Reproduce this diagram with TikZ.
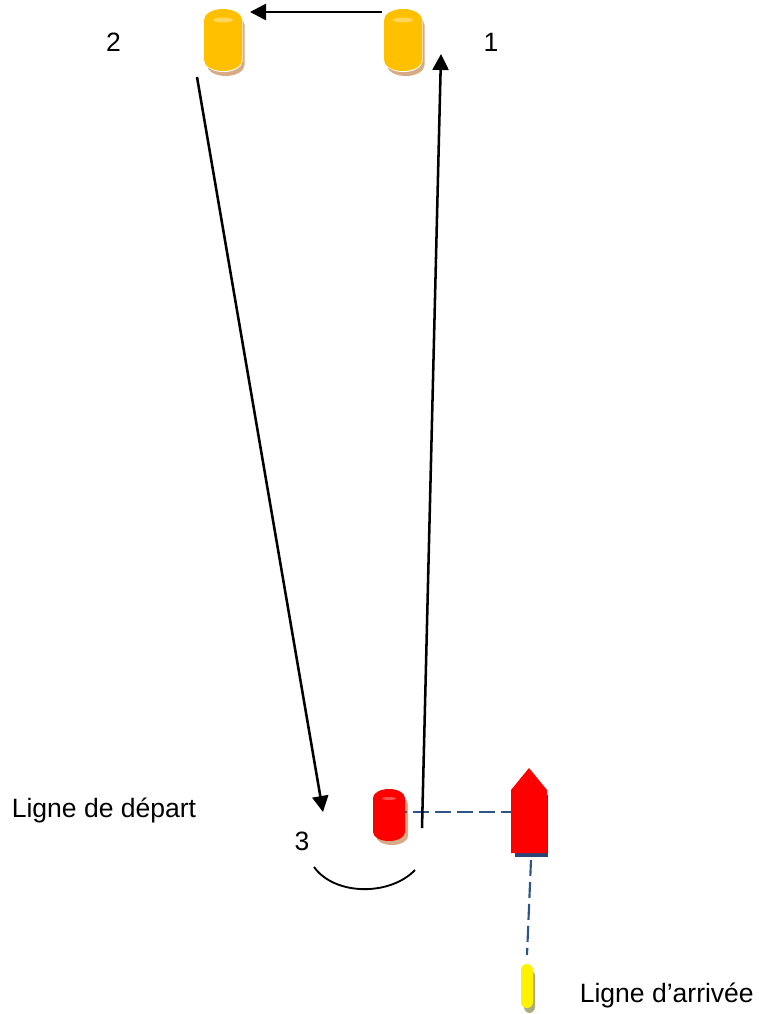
\documentclass[tikz,border=0pt]{standalone}
\usepackage{fontspec}
\setmainfont{Liberation Sans}
\usetikzlibrary{arrows.meta}
\definecolor{buoyorange}{HTML}{FFC000}
\definecolor{buoyhigh}{HTML}{FFD659}
\definecolor{buoyshadow}{HTML}{D6AB85}
\definecolor{redhigh}{HTML}{FF5050}
\definecolor{navyline}{HTML}{2F5488}
\definecolor{boatshadow}{HTML}{2A4674}
\definecolor{olive}{HTML}{ABAD80}
\newcommand{\canpath}[5]{% x0, y0, width, height, cap height
  (#1,#2+#5) .. controls (#1,#2+0.45*#5) and (#1+0.22*#3,#2) .. (#1+0.5*#3,#2)
  .. controls (#1+0.78*#3,#2) and (#1+#3,#2+0.45*#5) .. (#1+#3,#2+#5)
  -- (#1+#3,#2+#4-#5)
  .. controls (#1+#3,#2+#4-0.45*#5) and (#1+0.78*#3,#2+#4) .. (#1+0.5*#3,#2+#4)
  .. controls (#1+0.22*#3,#2+#4) and (#1,#2+#4-0.45*#5) .. (#1,#2+#4-#5) -- cycle}
\tikzset{
  x=0.75pt,y=-0.75pt,
  label text/.style={inner sep=0pt,font=\fontsize{19.9pt}{24pt}\selectfont},
  course/.style={line width=1.9pt,draw=black,-{Triangle[length=12pt,width=12pt]}},
  startline/.style={line width=1.6pt,draw=navyline,dash pattern=on 12pt off 4.5pt,dash phase=10.5pt},
  endline/.style={line width=1.6pt,draw=navyline,dash pattern=on 12pt off 4.5pt},
  turnarc/.style={line width=1.4pt,draw=black}
}
\begin{document}
\begin{tikzpicture}
\useasboundingbox (0,0) rectangle (758,1014);

% orange buoy 2
\fill[buoyshadow] \canpath{207}{14}{37.5}{62}{11};
\fill[white] \canpath{204.5}{10}{38}{62}{11};
\fill[buoyorange] \canpath{204}{9}{38}{62}{11};
\fill[buoyhigh] (223,20) ellipse[x radius=10,y radius=2.5];
% orange buoy 1
\fill[buoyshadow] \canpath{387}{14}{37.5}{62}{11};
\fill[white] \canpath{384.5}{10}{38}{62}{11};
\fill[buoyorange] \canpath{384}{9}{38}{62}{11};
\fill[buoyhigh] (403,20) ellipse[x radius=10,y radius=2.5];
% red buoy
\fill[buoyshadow] \canpath{376}{795}{32}{50}{9};
\fill[red] \canpath{373}{789}{32}{52}{9};
\fill[redhigh] (389,798.5) ellipse[x radius=7,y radius=1.5];

% finish buoy
\fill[olive,rounded corners=4.5pt] (524,970) rectangle (535,1013);
\fill[yellow,rounded corners=4.4pt] (521,964) rectangle (533,1008);

% boat
\fill[boatshadow] (515,795) rectangle (548,857);
\fill[red] (511,790) -- (529,768) -- (547,790) -- (547,853) -- (511,853) -- cycle;

% connector end points
\coordinate (buoyOneLeft) at (382,12);
\coordinate (buoyTwoRight) at (250,12);
\coordinate (markOneBelow) at (441,54);
\coordinate (startRight) at (422,828);
\coordinate (buoyTwoBelow) at (197,77);
\coordinate (markThree) at (323,812);
\coordinate (arcLeft) at (314,867);
\coordinate (arcRight) at (415,870);
\coordinate (redBuoyRight) at (405,812);
\coordinate (boatLeft) at (511,812);
\coordinate (boatBelow) at (531,860);
\coordinate (yellowTop) at (527,955);

% connectors
\draw[startline] (redBuoyRight) -- (boatLeft);
\draw[endline] (boatBelow) -- (yellowTop);
\draw[course] (buoyOneLeft) -- (buoyTwoRight);
\draw[course] (startRight) -- (markOneBelow);
\draw[course] (buoyTwoBelow) -- (markThree);
\draw[turnarc] (arcLeft) .. controls (335,896) and (390,896) .. (arcRight);

% labels
\node[label text] (labelTwo) at (113.5,42) {2};
\node[label text] (labelOne) at (491,42) {1};
\node[label text] (labelThree) at (302,841) {3};
\node[label text,anchor=base west] (labelStart) at (11.5,817) {Ligne de départ};
\node[label text,anchor=base west] (labelFinish) at (579.5,1002) {Ligne d’arrivée};
\end{tikzpicture}
\end{document}
